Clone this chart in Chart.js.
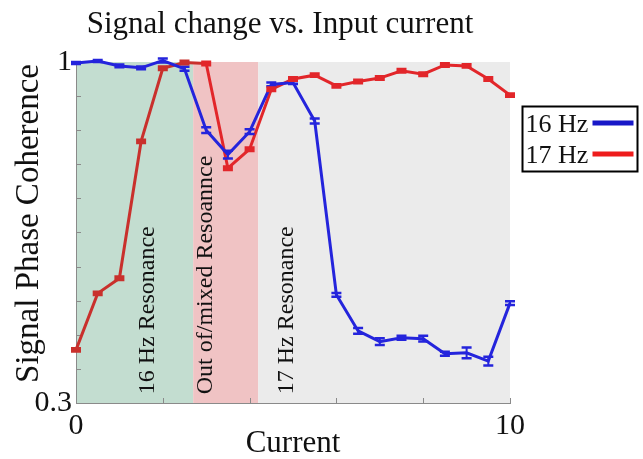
<!DOCTYPE html>
<html>
<head>
<meta charset="utf-8">
<script src="https://cdn.jsdelivr.net/npm/chart.js@4.4.1/dist/chart.umd.min.js"></script>
<style>
  html, body { margin: 0; padding: 0; background: #fff; }
  #wrap { width: 643px; height: 459px; }
</style>
</head>
<body>
<div id="wrap"><canvas id="chart"></canvas></div>
<script>
const currents = [0, 0.5, 1, 1.5, 2, 2.5, 3, 3.5, 4, 4.5, 5, 5.5, 6, 6.5, 7, 7.5, 8, 8.5, 9, 9.5, 10];
const hz16 = [0.998, 1.002, 0.992, 0.988, 1.003, 0.986, 0.86, 0.81, 0.857, 0.954, 0.958, 0.879,
  0.522, 0.448, 0.426, 0.434, 0.432, 0.401, 0.403, 0.386, 0.505];
const hz16Err = [0.002, 0.002, 0.003, 0.003, 0.004, 0.004, 0.006, 0.008, 0.005, 0.004, 0.003, 0.005,
  0.004, 0.006, 0.007, 0.004, 0.006, 0.004, 0.011, 0.009, 0.004];
const hz17 = [0.409, 0.525, 0.556, 0.837, 0.987, 0.999, 0.997, 0.782, 0.821, 0.944, 0.965, 0.973,
  0.951, 0.96, 0.967, 0.982, 0.975, 0.994, 0.992, 0.965, 0.932];
const hz17Err = new Array(21).fill(0.003);

const regionNames = ["16 Hz Resonance", "Out of/mixed Resoannce", "17 Hz Resonance"];
const regionFrom = [0, 2.7, 4.2];
const regionTo = [2.7, 4.2, 10];
const regionLabelAt = [1.65, 3.0, 4.85];
const regionLabelBase = 0.318;

const xTicks = [0, 2, 4, 6, 8, 10];
const yTicks = [0.3, 0.37, 0.44, 0.51, 0.58, 0.65, 0.72, 0.79, 0.86, 0.93, 1];

const Style = {
  blue: "#2424dc",
  red: "#e2262a",
  redOnGreen: "#c9302c",
  legendBlue: "#1818c8",
  legendRed: "#ee1c1c",
  regions: ["#c3ddd0", "#f0c3c4", "#ebebeb"],
  axis: "#8a8a8a",
  text: "#111111",
  font: "'Liberation Serif', 'Times New Roman', serif",
};

const pts = (ys) => currents.map((x, i) => ({ x, y: ys[i] }));

const backdrop = {
  id: "backdrop",
  beforeDraw(chart) {
    const { ctx, chartArea: a, scales: { x } } = chart;
    ctx.save();
    regionFrom.forEach((from, i) => {
      const l = x.getPixelForValue(from);
      const r = x.getPixelForValue(regionTo[i]);
      ctx.fillStyle = Style.regions[i];
      ctx.fillRect(l, a.top, r - l, a.bottom - a.top);
    });
    ctx.restore();
  },
  beforeDatasetsDraw(chart) {
    const { ctx, scales: { x, y } } = chart;
    ctx.save();
    // inward tick marks
    ctx.strokeStyle = Style.axis;
    ctx.lineWidth = 1;
    xTicks.forEach((t) => {
      const px = Math.round(x.getPixelForValue(t)) + 0.5;
      ctx.beginPath();
      ctx.moveTo(px, y.bottom);
      ctx.lineTo(px, y.bottom - 5);
      ctx.stroke();
    });
    yTicks.forEach((t) => {
      const py = Math.round(y.getPixelForValue(t)) + 0.5;
      ctx.beginPath();
      ctx.moveTo(x.left, py);
      ctx.lineTo(x.left + 5, py);
      ctx.stroke();
    });
    // region labels
    ctx.fillStyle = Style.text;
    ctx.font = "24px " + Style.font;
    ctx.textAlign = "left";
    ctx.textBaseline = "middle";
    regionNames.forEach((name, i) => {
      ctx.save();
      ctx.translate(x.getPixelForValue(regionLabelAt[i]), y.getPixelForValue(regionLabelBase));
      ctx.rotate(-Math.PI / 2);
      ctx.fillText(name, 0, 0);
      ctx.restore();
    });
    ctx.restore();
  },
  afterDatasetsDraw(chart) {
    const { ctx, scales: { x, y } } = chart;
    ctx.save();
    chart.data.datasets.forEach((ds) => {
      ds.data.forEach((p, i) => {
        const px = x.getPixelForValue(p.x);
        const hi = y.getPixelForValue(p.y + ds.errors[i]);
        const lo = y.getPixelForValue(p.y - ds.errors[i]);
        ctx.strokeStyle = ds.capColor(p.x);
        ctx.lineWidth = 2;
        ctx.beginPath();
        ctx.moveTo(px, hi);
        ctx.lineTo(px, lo);
        ctx.stroke();
        ctx.lineWidth = ds.capWidth;
        ctx.beginPath();
        ctx.moveTo(px - 5, hi);
        ctx.lineTo(px + 5, hi);
        ctx.moveTo(px - 5, lo);
        ctx.lineTo(px + 5, lo);
        ctx.stroke();
      });
    });
    ctx.restore();
  },
  afterDraw(chart) {
    const { ctx, chartArea: a } = chart;
    ctx.save();
    ctx.fillStyle = Style.text;
    // title
    ctx.font = "31px " + Style.font;
    ctx.textAlign = "center";
    ctx.textBaseline = "alphabetic";
    ctx.fillText("Signal change vs. Input current", (a.left + a.right) / 2 - 13, 33);
    // y title
    ctx.save();
    ctx.translate(29, (a.top + a.bottom) / 2 - 9);
    ctx.rotate(-Math.PI / 2);
    ctx.font = "33px " + Style.font;
    ctx.textBaseline = "middle";
    ctx.fillText("Signal Phase Coherence", 0, 0);
    ctx.restore();
    // legend
    const bx = a.right + 12.5, by = 106.5;
    ctx.strokeStyle = "#000";
    ctx.lineWidth = 2;
    ctx.strokeRect(bx, by, 115, 65);
    ctx.font = "26px " + Style.font;
    ctx.textAlign = "left";
    ctx.textBaseline = "middle";
    const rows = [["16 Hz", Style.legendBlue, 123], ["17 Hz", Style.legendRed, 154]];
    rows.forEach(([label, color, ry]) => {
      ctx.fillStyle = Style.text;
      ctx.fillText(label, bx + 3, ry + 2);
      ctx.strokeStyle = color;
      ctx.lineWidth = 5;
      ctx.beginPath();
      ctx.moveTo(bx + 70, ry);
      ctx.lineTo(bx + 111, ry);
      ctx.stroke();
    });
    ctx.restore();
  },
};

Chart.defaults.font.family = Style.font;
Chart.defaults.color = Style.text;

const redFor = (xv) => (xv < regionTo[0] ? Style.redOnGreen : Style.red);

new Chart(document.getElementById("chart"), {
  type: "line",
  data: {
    datasets: [
      {
        label: "16 Hz",
        data: pts(hz16),
        errors: hz16Err,
        capWidth: 2.5,
        capColor: () => Style.blue,
        borderColor: Style.blue,
        borderWidth: 3,
        pointRadius: 0,
        tension: 0,
        clip: 8,
      },
      {
        label: "17 Hz",
        data: pts(hz17),
        errors: hz17Err,
        capWidth: 3,
        capColor: redFor,
        borderColor: Style.red,
        segment: { borderColor: (c) => redFor(c.p0.parsed.x) },
        borderWidth: 3,
        pointRadius: 0,
        tension: 0,
        clip: 8,
      },
    ],
  },
  options: {
    animation: false,
    responsive: true,
    maintainAspectRatio: false,
    layout: { padding: { top: 62, right: 133, bottom: 0, left: 0 } },
    plugins: {
      legend: { display: false },
      tooltip: { enabled: false },
    },
    scales: {
      x: {
        type: "linear",
        min: 0,
        max: 10,
        afterFit: (s) => { s.height = 56; },
        afterBuildTicks: (s) => { s.ticks = xTicks.map((v) => ({ value: v })); },
        grid: { display: false, drawTicks: false },
        border: { display: true, color: Style.axis, width: 1 },
        ticks: {
          padding: 5,
          maxRotation: 0,
          font: { size: 30 },
          callback: (v) => (v === 0 || v === 10 ? String(v) : ""),
        },
        title: {
          display: true,
          text: "Current",
          font: { size: 31, lineHeight: 1 },
          padding: { top: 0, bottom: 0 },
        },
      },
      y: {
        min: 0.3,
        max: 1,
        afterFit: (s) => { s.width = 76; },
        afterBuildTicks: (s) => { s.ticks = yTicks.map((v) => ({ value: v })); },
        grid: { display: false, drawTicks: false },
        border: { display: true, color: Style.axis, width: 1 },
        ticks: {
          padding: 4,
          font: { size: 30 },
          autoSkip: false,
          callback: (v) => (v === 0.3 ? "0.3" : v === 1 ? "1" : ""),
        },
      },
    },
  },
  plugins: [backdrop],
});
</script>
</body>
</html>
